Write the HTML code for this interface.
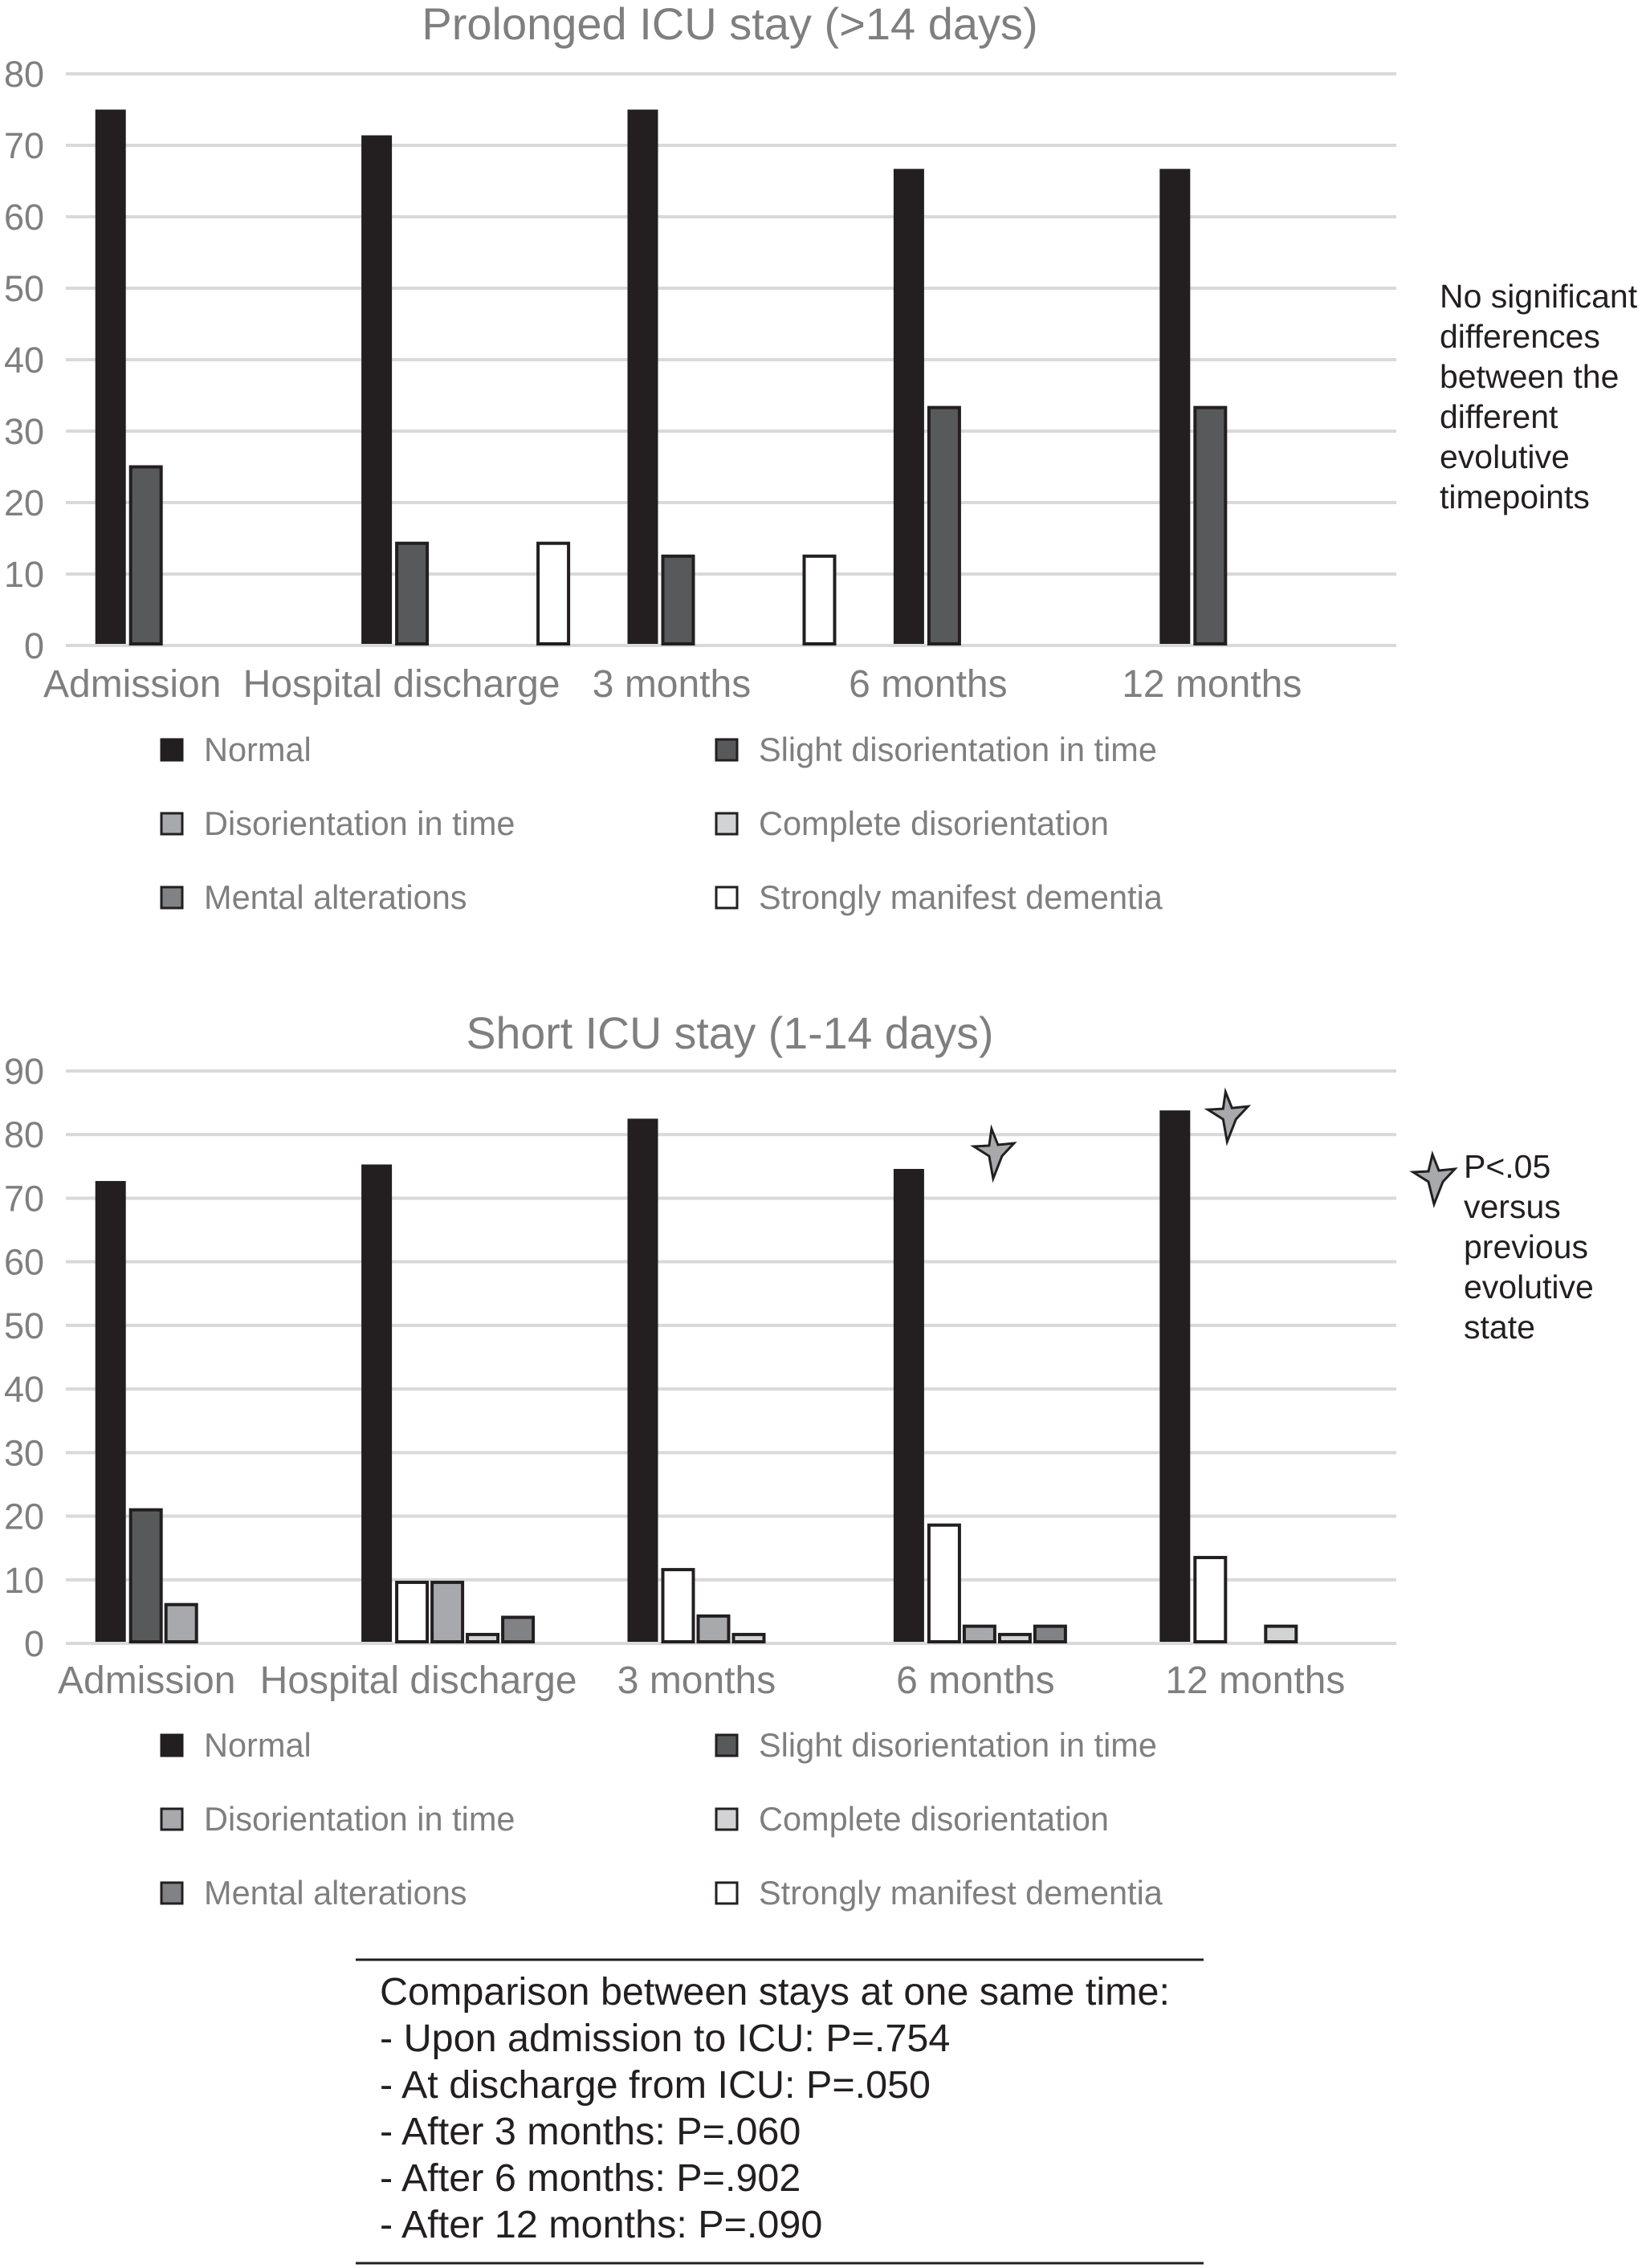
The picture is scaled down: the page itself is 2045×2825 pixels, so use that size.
<!DOCTYPE html>
<html><head><meta charset="utf-8">
<style>
html,body{margin:0;padding:0;background:#fff;}
svg{display:block;font-family:"Liberation Sans",sans-serif;}
</style></head>
<body>
<svg id="fig" width="2045" height="2825" viewBox="0 0 2045 2825">
<g id="top"></g>
<g id="bot"></g>

<text x="1793" y="383" font-size="41" fill="#231f20">
<tspan x="1793" y="383">No significant</tspan><tspan x="1793" y="433">differences</tspan><tspan x="1793" y="483">between the</tspan><tspan x="1793" y="533">different</tspan><tspan x="1793" y="583">evolutive</tspan><tspan x="1793" y="633">timepoints</tspan></text>

<g>
<polygon points="1784,1438 1792,1458 1812,1456 1797,1472 1786,1500 1779,1472 1760,1460 1779,1459" fill="#a7a9ac" stroke="#231f20" stroke-width="3"/>
<text font-size="41" fill="#231f20"><tspan x="1823" y="1467">P&lt;.05</tspan><tspan x="1823" y="1517">versus</tspan><tspan x="1823" y="1567">previous</tspan><tspan x="1823" y="1617">evolutive</tspan><tspan x="1823" y="1667">state</tspan></text>
</g>

<g>
<line x1="443" y1="2441" x2="1499" y2="2441" stroke="#231f20" stroke-width="3"/>
<line x1="443" y1="2819" x2="1499" y2="2819" stroke="#231f20" stroke-width="3"/>
<text font-size="48.5" fill="#231f20">
<tspan x="473" y="2497">Comparison between stays at one same time:</tspan>
<tspan x="473" y="2555">- Upon admission to ICU: P=.754</tspan>
<tspan x="473" y="2613">- At discharge from ICU: P=.050</tspan>
<tspan x="473" y="2671">- After 3 months: P=.060</tspan>
<tspan x="473" y="2729">- After 6 months: P=.902</tspan>
<tspan x="473" y="2787">- After 12 months: P=.090</tspan>
</text>
</g>
</svg>
<script>
const categories = ["Admission","Hospital discharge","3 months","6 months","12 months"];
const legendLabels = ["Normal","Slight disorientation in time","Disorientation in time","Complete disorientation","Mental alterations","Strongly manifest dementia"];
const legendColors = ["#231f20","#58595b","#a7a9ac","#d1d3d4","#808285","#ffffff"];

// Prolonged ICU stay (>14 days): values per bar slot
const topS1 = [75, 71.4, 75, 66.7, 66.7];
const topS2 = [25, 14.3, 12.5, 33.3, 33.3];
const topS3 = [0, 0, 0, 0, 0];
const topS4 = [0, 0, 0, 0, 0];
const topS5 = [0, 0, 0, 0, 0];
const topS6 = [0, 14.3, 12.5, 0, 0];
const topTicks = [0,10,20,30,40,50,60,70,80];

// Short ICU stay (1-14 days)
const botS1 = [72.7, 75.3, 82.5, 74.6, 83.8];
const botS2 = [21, 9.6, 11.6, 18.6, 13.5];
const botS2Colors = ["#58595b","#ffffff","#ffffff","#ffffff","#ffffff"];
const botS3 = [6.1, 9.6, 4.3, 2.7, 0];
const botS4 = [0, 1.4, 1.4, 1.4, 2.7];
const botS5 = [0, 4.1, 0, 2.7, 0];
const botS6 = [0, 0, 0, 0, 0];
const botTicks = [0,10,20,30,40,50,60,70,80,90];
const botStars = [3, 4]; // categories with significance star

const NS = "http://www.w3.org/2000/svg";
function mk(parent, tag, attrs){ const e=document.createElementNS(NS,tag); for(const k in attrs) e.setAttribute(k,attrs[k]); parent.appendChild(e); return e; }

function drawChart(g, cfg){
  const x0=82, x1=1739, cw=(x1-x0)/categories.length;
  const yOf = v => cfg.y0 - v*(cfg.y0-cfg.yTop)/cfg.max;
  const t = mk(g,"text",{x:909,y:cfg.titleY,"font-size":cfg.titleSize,fill:"#7f7f7f","text-anchor":"middle"});
  
  
  t.textContent=cfg.title;
  cfg.ticks.forEach(v=>{
    const l=mk(g,"line",{x1:x0,x2:x1,y1:yOf(v),y2:yOf(v),stroke:"#d9d9d9","stroke-width":4});
    
    
    const tx=mk(g,"text",{x:55,y:yOf(v)+16,"font-size":45,fill:"#7f7f7f","text-anchor":"end"});
    
    
    tx.textContent=v;
  });
  const bw=38, pitch=44;
  cfg.series.forEach((vals,si)=>{
    vals.forEach((v,ci)=>{
      if(!v) return;
      const bx = x0 + cw*ci + cw/2 - 3*pitch + si*pitch + 3;
      const fill = cfg.colors[si][ci];
      const r = mk(g,"rect",{x:bx,y:yOf(v),width:bw,height:cfg.y0-yOf(v)-2,fill:fill,stroke:fill==="#231f20"?"none":"#231f20","stroke-width":fill==="#231f20"?0:4});
      
      
    });
  });
  categories.forEach((c,ci)=>{
    const tx=mk(g,"text",{x:x0+cw*ci+cw/2+cfg.labelShift[ci],y:cfg.labelY,"font-size":48,fill:"#7f7f7f","text-anchor":"middle"});
    
    
    tx.textContent=c;
  });
  legendLabels.forEach((lab,i)=>{
    const col=i%2, row=Math.floor(i/2);
    const sx = col===0?201:892, ty=cfg.legendY+row*92;
    const sq=mk(g,"rect",{x:sx,y:ty-13,width:26,height:26,fill:legendColors[i],stroke:"#231f20","stroke-width":3});
    
    
    const tx=mk(g,"text",{x:sx+53,y:ty+14,"font-size":41.5,fill:"#7f7f7f"});
    
    
    tx.textContent=lab;
  });
}
function rep(c){ return [c,c,c,c,c]; }
drawChart(document.getElementById('top'),{
  title:"Prolonged ICU stay (>14 days)", titleY:49, titleSize:56, y0:804, yTop:92, max:80, ticks:topTicks,
  series:[topS1,topS2,topS3,topS4,topS5,topS6],
  colors:legendColors.map(rep),
  labelY:868, labelShift:[-83,-79,-74,-86,-64], legendY:934
});
drawChart(document.getElementById('bot'),{
  title:"Short ICU stay (1-14 days)", titleY:1306, titleSize:55.5, y0:2047, yTop:1334, max:90, ticks:botTicks,
  series:[botS1,botS2,botS3,botS4,botS5,botS6],
  colors:[rep("#231f20"),botS2Colors,rep("#a7a9ac"),rep("#d1d3d4"),rep("#808285"),rep("#ffffff")],
  labelY:2109, labelShift:[-65,-58,-43,-27,-10], legendY:2174
});
// significance stars (placement offsets are layout, relative to category centre / bar top)
const starDx = [0,0,0,-5,-45];
const starDy = [0,0,0,-20,7];
const bot=document.getElementById('bot');
botStars.forEach(ci=>{
  const x0=82, cw=(1739-82)/categories.length;
  const cx = x0+cw*ci+cw/2 + starDx[ci];
  const cy = 2047 - botS1[ci]*(2047-1334)/90 + starDy[ci];
  const p=[[-2,-30],[6,-10],[26,-12],[11,4],[0,32],[-5,4],[-24,-8],[-5,-9]].map(q=>(cx+q[0])+","+(cy+q[1])).join(" ");
  const s=mk(bot,"polygon",{points:p,fill:"#a7a9ac",stroke:"#231f20","stroke-width":3});
  
  
});
</script>
</body></html>
